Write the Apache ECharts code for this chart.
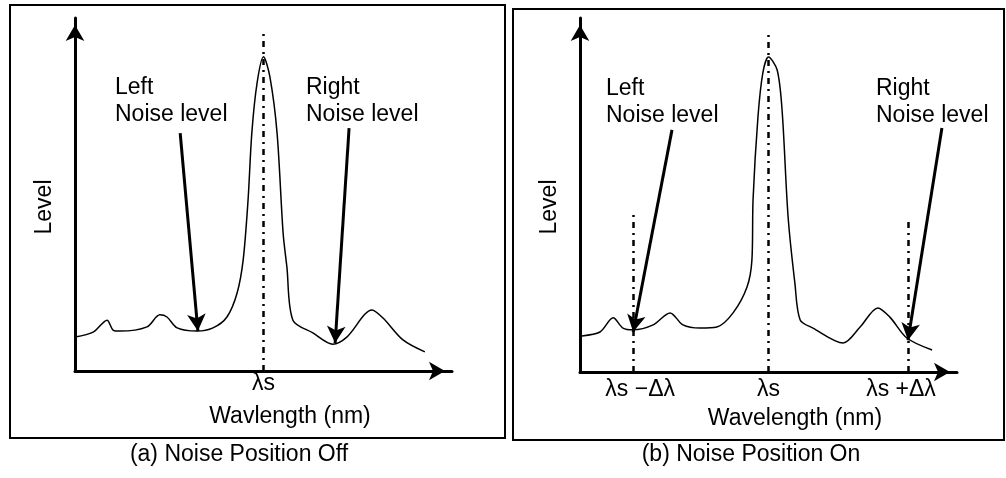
<!DOCTYPE html>
<html>
<head>
<meta charset="utf-8">
<script src="https://cdn.jsdelivr.net/npm/echarts@6/dist/echarts.min.js"></script>
<style>html,body{margin:0;padding:0;background:#fff}#c{width:1006px;height:478px}</style>
</head>
<body>
<div id="c"></div>
<script>
// ---- Panel (a): Noise Position Off ----
var curveA_x = [0, 4.8, 8.5, 10.1, 11.9, 19.1, 22.5, 24.4, 27.1, 32.4, 36.6, 40.3, 43.0, 44.6, 45.9, 46.9, 48.3, 50, 51.7, 53.6, 55.2, 56.2, 57.8, 63.1, 68.4, 72.1, 78.8, 81.7, 87.0, 92.8];
var curveA_y = [9.6, 11.0, 14.4, 11.6, 11.3, 12.5, 15.9, 15.3, 12.2, 11.3, 12.2, 15.3, 22.1, 31.4, 48.4, 67.4, 81.6, 89.0, 83.3, 67.4, 39.1, 29.5, 14.4, 10.8, 7.6, 9.6, 17.3, 15.0, 8.8, 5.4];
var tickValsA = [50];
var tickLabelsA = ['λs'];
var markersA = [{x: 50, top: 95.8}];
var arrowsA = [ {from: [27.9, 67.4], to: [32.6, 11.3]}, {from: [72.7, 68.8], to: [69.0, 7.9]} ];

// ---- Panel (b): Noise Position On ----
var curveB_x = [0.5, 5.3, 8.8, 11.4, 14.1, 19.4, 23.9, 27.3, 31.8, 36.3, 40.6, 44.3, 45.6, 45.9, 47.2, 48.5, 50, 52.3, 53.6, 55.2, 57.0, 58.4, 61.8, 69.8, 74.3, 79.0, 82.2, 86.7, 93.4];
var curveB_y = [10.2, 11.3, 15.3, 12.4, 11.9, 13.3, 16.7, 13.3, 12.4, 12.7, 16.7, 24.0, 31.6, 48.6, 72.0, 84.5, 89.0, 85.3, 74.0, 43.8, 25.1, 14.7, 12.4, 8.2, 12.7, 18.1, 15.5, 9.6, 6.2];
var tickValsB = [14.1, 50, 87.0];
var tickLabelsB = ['λs −Δλ', 'λs', 'λs +Δλ'];
var markersB = [{x: 14.1, top: 45.2}, {x: 50, top: 95.2}, {x: 87.0, top: 42.9}];
var arrowsB = [ {from: [24.4, 68.4], to: [14.1, 11.3]}, {from: [96.0, 68.9], to: [87.0, 9.0]} ];

var FONT = '"Liberation Sans", Arial, sans-serif';
var FS = 23;

function zip(xs, ys) { return xs.map(function (x, i) { return [x, ys[i]]; }); }

function markLines(markers, arrows) {
  var data = [];
  markers.forEach(function (m) {
    data.push([{coord: [m.x, 0], symbol: 'none', lineStyle: {type: [6, 5, 2, 5], width: 2.5, color: '#000'}},
               {coord: [m.x, m.top], symbol: 'none'}]);
  });
  arrows.forEach(function (a) {
    data.push([{coord: a.from, symbol: 'none', lineStyle: {type: 'solid', width: 3, color: '#000'}},
               {coord: a.to, symbol: 'arrow', symbolSize: [14, 17], symbolOffset: [0, 0]}]);
  });
  return {silent: true, animation: false, label: {show: false}, data: data};
}

function xAxisOf(idx, vals, labels, pads) {
  return {
    type: 'value', gridIndex: idx, min: 0, max: 100,
    splitLine: {show: false}, axisTick: {show: false},
    axisLine: {show: true, symbol: ['none', 'arrow'], symbolSize: [14, 16], symbolOffset: [0, -7],
               lineStyle: {color: '#000', width: 3}},
    axisLabel: {
      show: true, customValues: vals, margin: idx === 0 ? 1 : 6,
      color: '#000', fontFamily: FONT, fontSize: FS,
      formatter: function (v) {
        var i = vals.indexOf(v);
        return i < 0 ? '' : '{p' + i + '|' + labels[i] + '}';
      },
      rich: pads
    }
  };
}
function yAxisOf(idx) {
  return {
    type: 'value', gridIndex: idx, min: 0, max: 100,
    splitLine: {show: false}, axisTick: {show: false}, axisLabel: {show: false},
    axisLine: {show: true, symbol: ['none', 'arrow'], symbolSize: [14, 16], symbolOffset: [0, -7],
               lineStyle: {color: '#000', width: 3}}
  };
}

var richA = {p0: {fontFamily: FONT, fontSize: FS, color: '#000'}};
var richB = {
  p0: {fontFamily: FONT, fontSize: FS, color: '#000', padding: [0, 0, 0, 14]},
  p1: {fontFamily: FONT, fontSize: FS, color: '#000'},
  p2: {fontFamily: FONT, fontSize: FS, color: '#000', padding: [0, 14, 0, 0]}
};

function txt(x, y, s, opts) {
  var o = {type: 'text', x: x, y: y, silent: true,
    style: {text: s, fill: '#000', font: FS + 'px ' + FONT, textAlign: 'center', textVerticalAlign: 'middle'}};
  if (opts) { for (var k in opts) { if (k === 'style') { for (var j in opts.style) o.style[j] = opts.style[j]; } else o[k] = opts[k]; } }
  return o;
}

var chart = echarts.init(document.getElementById('c'), null, {renderer: 'canvas'});
chart.setOption({
  animation: false,
  backgroundColor: '#fff',
  grid: [
    {left: 75, top: 18, width: 377, height: 353, outerBoundsMode: 'none', containLabel: false},
    {left: 580, top: 18, width: 377, height: 354, outerBoundsMode: 'none', containLabel: false}
  ],
  xAxis: [xAxisOf(0, tickValsA, tickLabelsA, richA), xAxisOf(1, tickValsB, tickLabelsB, richB)],
  yAxis: [yAxisOf(0), yAxisOf(1)],
  series: [
    {type: 'line', xAxisIndex: 0, yAxisIndex: 0, data: zip(curveA_x, curveA_y), smooth: 0.3,
     showSymbol: false, symbol: 'none', lineStyle: {color: '#000', width: 1.5}, z: 3,
     markLine: markLines(markersA, arrowsA)},
    {type: 'line', xAxisIndex: 1, yAxisIndex: 1, data: zip(curveB_x, curveB_y), smooth: 0.3,
     showSymbol: false, symbol: 'none', lineStyle: {color: '#000', width: 1.5}, z: 3,
     markLine: markLines(markersB, arrowsB)}
  ],
  graphic: [
    {type: 'rect', shape: {x: 10, y: 5, width: 495, height: 433}, style: {fill: 'none', stroke: '#000', lineWidth: 2}, silent: true},
    {type: 'rect', shape: {x: 513, y: 9, width: 491, height: 431}, style: {fill: 'none', stroke: '#000', lineWidth: 2}, silent: true},
    txt(45, 207, 'Level', {rotation: Math.PI / 2}),
    txt(550, 207, 'Level', {rotation: Math.PI / 2}),
    txt(290, 417, 'Wavlength (nm)'),
    txt(795, 419, 'Wavelength (nm)'),
    txt(239, 455, '(a) Noise Position Off'),
    txt(751, 455, '(b) Noise Position On'),
    txt(115, 101, 'Left\nNoise level', {style: {textAlign: 'left', lineHeight: 27}}),
    txt(306, 101, 'Right\nNoise level', {style: {textAlign: 'left', lineHeight: 27}}),
    txt(606, 102, 'Left\nNoise level', {style: {textAlign: 'left', lineHeight: 27}}),
    txt(876, 102, 'Right\nNoise level', {style: {textAlign: 'left', lineHeight: 27}})
  ]
});
</script>
</body>
</html>
